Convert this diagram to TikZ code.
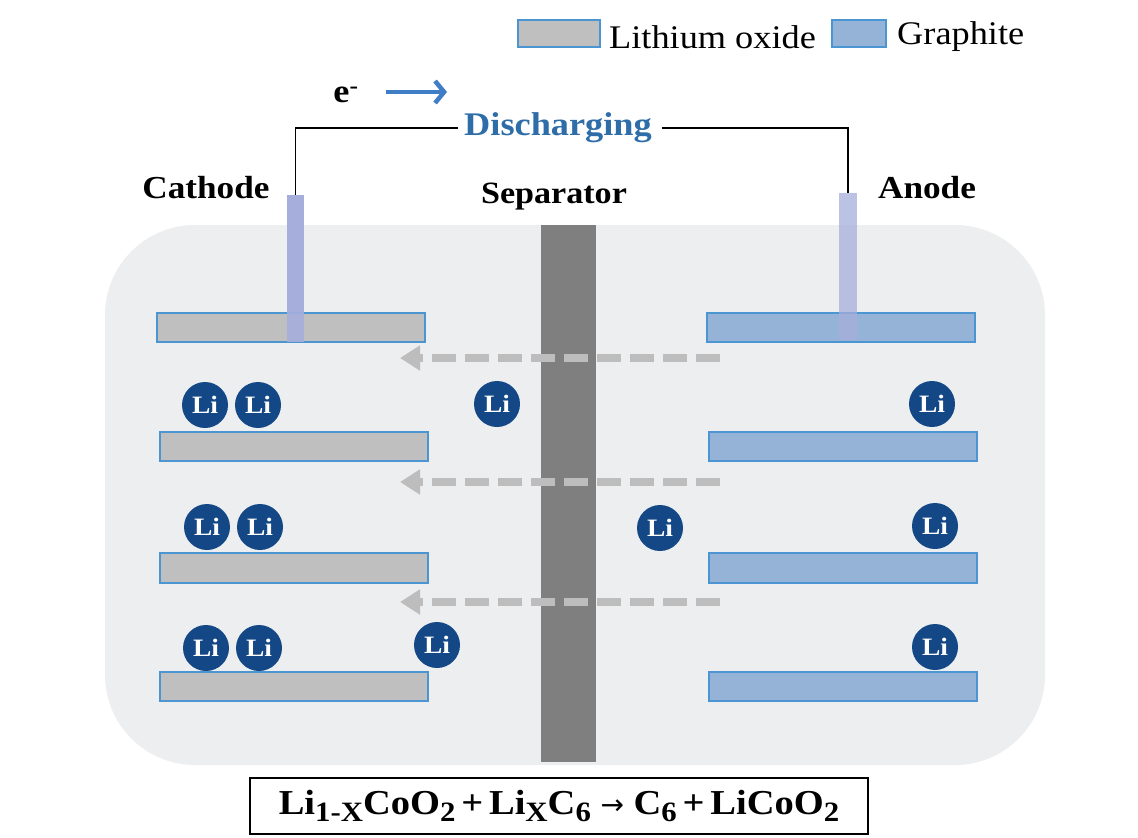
\documentclass[tikz,border=0pt]{standalone}
\usepackage{fontspec}
\setmainfont[FakeStretch=1.1]{Liberation Serif}
\newfontfamily\djv{DejaVu Sans}
\usetikzlibrary{arrows.meta}
\definecolor{bgbox}{HTML}{EDEEF0}
\definecolor{sepc}{HTML}{7F7F7F}
\definecolor{termc}{HTML}{A6AEDB}
\definecolor{greyplate}{HTML}{BFBFBF}
\definecolor{blueplate}{HTML}{95B3D7}
\definecolor{plateedge}{HTML}{4A95D2}
\definecolor{lic}{HTML}{144785}
\definecolor{dashc}{HTML}{BDBDBD}
\definecolor{dischc}{HTML}{2F6DA8}
\definecolor{earrow}{HTML}{3F7EC6}
\newcommand{\lsub}[1]{\raisebox{-0.42ex}{\fontsize{28}{28}\selectfont #1}}
\tikzset{
  lbl/.style={font=\fontsize{32}{32}\selectfont\bfseries, inner sep=0pt},
  leg/.style={font=\fontsize{33}{33}\selectfont, inner sep=0pt, anchor=west},
  cplate/.style={fill=greyplate, draw=plateedge, line width=1.2pt},
  aplate/.style={fill=blueplate, draw=plateedge, line width=1.2pt},
  term/.style={fill=termc, draw=none},
  li/.style={circle, fill=lic, minimum size=46pt, inner sep=0pt, text=white,
             font=\fontsize{25}{25}\selectfont\bfseries},
  ionflow/.style={draw=dashc, line width=8pt, dash pattern=on 24pt off 9pt,
             -{Triangle[length=20pt,width=24pt]}},
  wire/.style={draw=black, line width=1.5pt}
}
\begin{document}
\begin{tikzpicture}[x=1pt,y=-1pt]
\useasboundingbox (0,0) rectangle (1138,838);
% legend
\node[fill=greyplate, draw=plateedge, line width=1.2pt, minimum width=82pt, minimum height=27pt, inner sep=0pt] (legc) at (559,33.5) {};
\node[leg] (legct) at (609,37) {Lithium oxide};
\node[fill=blueplate, draw=plateedge, line width=1.2pt, minimum width=54pt, minimum height=27pt, inner sep=0pt] (lega) at (859,33.5) {};
\node[leg] (legat) at (897,37) {Graphite};
% electron
\node[lbl, font=\fontsize{33}{33}\selectfont\bfseries] (elec) at (346,95) {e\textsuperscript{-}};
\coordinate (ea1) at (386,92);
\coordinate (ea2) at (447,92);
\draw[earrow, line width=4.5pt, -{Straight Barb[length=9pt,width=22pt]}] (ea1) -- (ea2);
% background box
\node[fill=bgbox, rounded corners=90pt, minimum width=940pt, minimum height=540pt, inner sep=0pt] (cell) at (575,495) {};
% separator
\node[fill=sepc, minimum width=55pt, minimum height=537pt, inner sep=0pt] (sep) at (568.5,493.5) {};
% labels
\node[lbl] (cath) at (206,188) {Cathode};
\node[lbl] (anod) at (927,188) {Anode};
\node[lbl, font=\fontsize{31}{31}\selectfont\bfseries] (sept) at (554,197) {Separator};
\node[lbl, text=dischc, font=\fontsize{33}{33}\selectfont\bfseries] (dis) at (558,128) {Discharging};
% terminals
\node[term, minimum width=17pt, minimum height=147pt, inner sep=0pt] (ct) at (295.5,268.5) {};
% plates
\node[cplate, minimum width=268pt, minimum height=29pt, inner sep=0pt] (c1) at (291,327.5) {};
\node[term, minimum width=17pt, minimum height=147pt, inner sep=0pt, opacity=0.9] (ct2) at (295.5,268.5) {};
\node[cplate, minimum width=268pt, minimum height=29pt, inner sep=0pt] (c2) at (294,446.5) {};
\node[cplate, minimum width=268pt, minimum height=30pt, inner sep=0pt] (c3) at (294,568) {};
\node[cplate, minimum width=268pt, minimum height=29pt, inner sep=0pt] (c4) at (294,686.5) {};
\node[aplate, minimum width=268pt, minimum height=29pt, inner sep=0pt] (a1) at (841,327.5) {};
\node[term, minimum width=18pt, minimum height=147pt, inner sep=0pt, opacity=0.75] (at) at (848,266.5) {};
\node[aplate, minimum width=268pt, minimum height=29pt, inner sep=0pt] (a2) at (843,446.5) {};
\node[aplate, minimum width=268pt, minimum height=30pt, inner sep=0pt] (a3) at (843,568) {};
\node[aplate, minimum width=268pt, minimum height=29pt, inner sep=0pt] (a4) at (843,686.5) {};
% wire
\draw[wire] (ct.north) |- ([xshift=-6pt]dis.west);
\draw[wire] ([xshift=10pt]dis.east) -| (at.north);
% ion flow arrows
\coordinate (f1s) at (720,358); \coordinate (f1e) at (400,358);
\coordinate (f2s) at (720,482); \coordinate (f2e) at (400,482);
\coordinate (f3s) at (720,602); \coordinate (f3e) at (400,602);
\draw[ionflow] (f1s) -- (f1e);
\draw[ionflow] (f2s) -- (f2e);
\draw[ionflow] (f3s) -- (f3e);
% Li ions
\node[li] (l11) at (205,405) {Li};
\node[li] (l12) at (258,405) {Li};
\node[li] (l13) at (497,404) {Li};
\node[li] (l14) at (932,404) {Li};
\node[li] (l21) at (207,527) {Li};
\node[li] (l22) at (260,527) {Li};
\node[li] (l23) at (660,528) {Li};
\node[li] (l24) at (935,526) {Li};
\node[li] (l31) at (206,648) {Li};
\node[li] (l32) at (259,648) {Li};
\node[li] (l33) at (437,645) {Li};
\node[li] (l34) at (935,647) {Li};
% formula
\node[draw=black, line width=1.5pt, minimum width=618pt, minimum height=56pt, inner sep=0pt,
      font=\fontsize{35}{35}\selectfont\bfseries, fill=white] (eq) at (559,806)
  {Li\lsub{1-X}CoO\lsub{2}\,+\,Li\lsub{X}C\lsub{6} {\djv\mdseries\fontsize{28}{28}\selectfont →} C\lsub{6}\,+\,LiCoO\lsub{2}};
\end{tikzpicture}
\end{document}
